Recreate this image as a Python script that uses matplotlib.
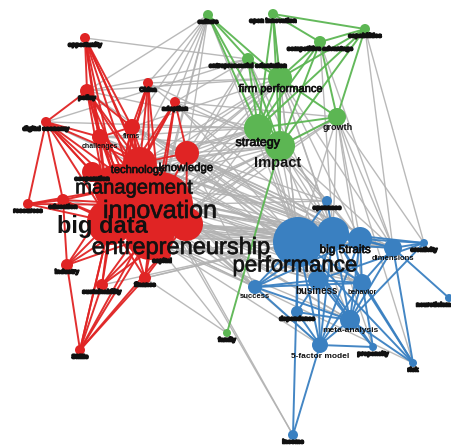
import matplotlib
matplotlib.use("Agg")
import matplotlib.pyplot as plt
import matplotlib.patheffects as pe
from matplotlib.collections import LineCollection

plt.rcParams['font.family'] = ['Liberation Sans', 'DejaVu Sans']

# ---- network data -------------------------------------------------------
node_ids = [
    # cluster 0 (red)
    "innov", "mgmt", "bigd", "entr", "tech", "know", "firms", "chal",
    "rt1", "rt2", "rt3", "rt4", "rl1", "rl2", "rl3", "rlo1", "rlo2", "rlo3",
    "rbot", "rcoop", "rmodel", "rsme",
    # cluster 1 (green)
    "g_cult", "g_open", "g_dyn", "g_corp", "g_eo", "g_fp", "g_grow",
    "g_strat", "g_imp", "g_net",
    # cluster 2 (blue)
    "perf", "big5", "b3", "dim", "btop", "br1", "bfar", "succ", "bus",
    "beh", "bdep", "meta", "b5f", "bprop", "btrait", "bbot",
]
node_labels = [
    "innovation", "management", "big data", "entrepreneurship", "technology",
    "knowledge", "firms", "challenges", "opportunity", "policy", "China",
    "adoption", "digital economy", "resources", "education", "industry",
    "sustainability", "finance", "SMEs", "cooperation", "capital", "",
    "culture", "open innovation", "capabilities", "competitive advantage",
    "entrepreneurial orientation", "firm performance", "growth", "strategy",
    "Impact", "family",
    "performance", "big 5traits", "", "dimensions", "openness", "creativity",
    "neuroticism", "success", "business", "behavior", "dependence",
    "meta-analysis", "5-factor model", "propensity", "risk", "income",
]
node_cluster = [0] * 22 + [1] * 10 + [2] * 16
node_x = [
    160, 118, 110, 150, 140, 187, 132, 100, 85, 87, 148, 175, 46, 28, 63,
    67, 102, 145, 80, 92, 162, 186,
    208, 273, 365, 320, 248, 280, 337, 258, 280, 227,
    298, 333, 360, 393, 327, 424, 449, 255, 318, 362, 297, 350, 320, 373,
    413, 293,
]
node_y = [
    205, 188, 222, 236, 163, 153, 127, 137, 38, 91, 83, 102, 122, 204, 200,
    265, 285, 278, 350, 172, 254, 224,
    15, 14, 29, 42, 59, 78, 117, 128, 146, 333,
    242, 233, 239, 248, 201, 243, 298, 287, 280, 283, 312, 320, 345, 347,
    363, 435,
]
node_weight = [
    33, 24, 23, 24, 16, 12, 8, 8, 5, 7, 5, 5, 5, 5, 6, 6, 6, 6, 5, 10, 9, 17,
    5, 5, 5, 6, 6, 12, 9, 14, 15, 4,
    25, 16, 12, 9, 5, 4, 4, 7, 10, 9, 6, 10, 8, 4, 4, 5,
]

links = """
innov mgmt|innov bigd|innov entr|mgmt bigd|mgmt entr|bigd entr|innov tech|mgmt tech
tech know|innov know|entr tech|bigd tech|innov rsme|entr rsme|know rsme
firms innov|firms mgmt|firms tech|firms bigd|firms entr|firms chal
chal innov|chal mgmt|chal bigd|chal entr|chal tech
rt1 rt2|rt1 innov|rt1 mgmt|rt1 bigd|rt1 entr|rt1 firms|rt1 chal|rt1 tech
rt2 rl1|rt2 innov|rt2 mgmt|rt2 bigd|rt2 chal|rt2 entr|rt2 firms|rt2 tech
rt3 innov|rt3 mgmt|rt3 tech|rt3 firms|rt3 entr|rt3 bigd
rt4 innov|rt4 mgmt|rt4 tech|rt4 know|rt4 bigd|rt4 entr
rl1 innov|rl1 mgmt|rl1 bigd|rl1 entr|rl1 chal|rl1 tech|rl1 rl3|rl1 rcoop|rl1 rl2
rl2 mgmt|rl2 bigd|rl2 innov|rl2 rl3
rl3 mgmt|rl3 bigd|rl3 innov|rl3 entr
rlo1 bigd|rlo1 mgmt|rlo1 innov|rlo1 entr|rlo1 rbot|rlo1 rl3
rlo2 bigd|rlo2 entr|rlo2 innov|rlo2 mgmt|rlo2 rbot|rlo2 rsme
rlo3 entr|rlo3 innov|rlo3 bigd|rlo3 rbot|rlo3 mgmt|rlo3 rsme
rbot bigd|rbot entr|rbot innov|rbot mgmt|rbot rmodel
rcoop mgmt|rcoop bigd|rcoop innov|rmodel entr|rmodel innov|rmodel bigd
g_cult g_strat|g_cult g_imp|g_cult g_eo|g_cult g_fp
g_open g_fp|g_open g_strat|g_open g_imp|g_open g_corp|g_open g_dyn
g_dyn g_corp|g_dyn g_fp|g_dyn g_imp|g_dyn g_strat|g_dyn g_grow
g_corp g_fp|g_corp g_strat|g_corp g_imp|g_corp g_grow
g_eo g_fp|g_eo g_strat|g_eo g_imp|g_fp g_strat|g_fp g_imp|g_fp g_grow
g_grow g_strat|g_grow g_imp|g_strat g_imp|g_imp g_net
perf big5|perf b3|perf dim|perf btop|perf succ|perf bus|perf beh|perf bdep
perf meta|perf b5f|perf bprop|perf btrait|perf bbot
big5 b3|big5 dim|big5 btop|big5 bus|big5 beh|big5 meta|big5 b5f|big5 br1|big5 btrait
b3 dim|b3 br1|b3 beh|b3 meta|b3 b5f|b3 succ
dim br1|dim bfar|dim beh|dim meta|dim btrait|br1 meta|br1 bus
succ bus|succ beh|succ meta|succ big5|succ b5f
bus beh|bus meta|bus b5f|bus bdep|beh meta|beh b5f|beh btrait|beh bprop
meta b5f|meta bprop|meta btrait|b5f bbot|b5f bprop|bdep meta|bdep b5f
innov perf|innov big5|innov b3|innov dim|innov bus|innov succ|innov beh|innov meta
mgmt perf|mgmt big5|mgmt b3|mgmt dim|mgmt btop|bigd perf|bigd big5|bigd b3|bigd bus
entr perf|entr big5|entr b3|entr dim|entr succ|entr bus|entr beh|entr meta|entr b5f
tech perf|tech big5|tech b3|know perf|know big5|know b3|know dim|know btop
firms perf|firms big5|chal perf|rt4 perf|rt3 big5|rsme perf|rsme big5|rsme dim
rl3 perf|rcoop perf|rt2 perf|chal big5|firms b3|tech dim|know bus|know succ
mgmt succ|bigd succ|rsme b3|rsme bus|rsme succ|rsme meta|tech bus|rsme beh
rcoop big5|rl1 perf|know beh|tech succ|firms dim|chal b3
innov g_strat|innov g_imp|innov g_fp|innov g_grow|mgmt g_strat|mgmt g_imp|mgmt g_fp
bigd g_imp|bigd g_strat|entr g_strat|entr g_imp|entr g_fp|entr g_grow|entr g_eo
tech g_imp|tech g_strat|tech g_fp|know g_strat|know g_imp|know g_fp|know g_eo|know g_cult
firms g_fp|firms g_cult|rt1 g_eo|g_cult rt2|g_cult rt4|g_cult innov|g_cult entr
g_cult mgmt|rt2 g_fp|rt4 g_eo|rt3 g_cult|rl1 g_eo|rt2 g_eo|rt3 g_fp|chal g_strat
rsme g_imp|rsme g_strat|rcoop g_imp|rt4 g_grow|rt4 g_imp|rt3 g_imp
firms g_strat|chal g_imp|rcoop g_strat|bigd g_fp|rt2 g_strat|rl1 g_strat|rsme g_grow
g_imp perf|g_imp big5|g_imp b3|g_imp dim|g_imp btop|g_strat perf|g_strat big5|g_strat b3
g_fp perf|g_fp big5|g_fp dim|g_fp b3|g_grow perf|g_grow big5|g_grow dim|g_grow b3
g_grow br1|g_grow btrait|g_grow beh|g_corp big5|g_corp dim|g_dyn dim|g_open perf
g_eo perf|g_eo big5|g_cult perf|g_fp bprop|g_imp meta|g_strat bus|g_dyn br1
entr g_net|rlo3 g_net|innov bbot|tech bbot|entr btrait|rmodel perf|rmodel big5
rlo2 perf|rlo3 perf|rlo3 big5|bigd dim|mgmt bus|innov b5f|innov btop
"""

# ---- styling ------------------------------------------------------------
cluster_color = {0: "#e02424", 1: "#5cb653", 2: "#3a80c1"}
gray = "#b2b2b2"

label_style = {
    # label: (fontsize, bold, dx, dy)
    "innovation": (18, False, 0, 6),
    "management": (14.5, False, 16, 0),
    "big data": (17, True, -8, 5),
    "entrepreneurship": (17, False, 31, 12),
    "technology": (8, False, -2, 7),
    "knowledge": (8.2, False, -1, 15),
    "performance": (16, False, -3, 24),
    "strategy": (9, False, 0, 15),
    "Impact": (10.5, True, -2, 17),
    "firm performance": (8, False, 1, 11),
    "growth": (6.5, True, 1, 10),
    "big 5traits": (8.5, False, 12, 17),
    "business": (7, True, -1, 11),
    "meta-analysis": (6, True, 1, 11),
    "5-factor model": (6, True, 0, 11),
    "behavior": (5, True, 0, 10),
    "success": (5.5, True, 0, 10),
    "dimensions": (5.5, True, 0, 11),
    "challenges": (5, True, 0, 10),
    "firms": (5, True, 0, 10),
}
small_style = (4.4, True, 0, 7)

# ---- figure ---------------------------------------------------------------
fig = plt.figure(figsize=(4.52, 4.45), dpi=100)
ax = fig.add_axes([0, 0, 1, 1])
ax.set_xlim(0, 452)
ax.set_ylim(445, 0)
ax.axis("off")

index = {n: i for i, n in enumerate(node_ids)}
pairs = [p.split() for row in links.strip().splitlines() for p in row.split("|")]

gray_segs, col_segs, col_cols = [], [], []
for a, b in pairs:
    i, j = index[a], index[b]
    seg = [(node_x[i], node_y[i]), (node_x[j], node_y[j])]
    if node_cluster[i] == node_cluster[j]:
        col_segs.append(seg)
        col_cols.append(cluster_color[node_cluster[i]])
    else:
        gray_segs.append(seg)

ax.add_collection(LineCollection(gray_segs, colors=gray, linewidths=1.0,
                                 alpha=0.9, zorder=1))
ax.add_collection(LineCollection(col_segs, colors=col_cols, linewidths=1.4,
                                 alpha=0.95, zorder=2))

sizes = [(2 * w * 0.72) ** 2 for w in node_weight]
colors = [cluster_color[c] for c in node_cluster]
ax.scatter(node_x, node_y, s=sizes, c=colors, linewidths=0, zorder=3)

for i, lab in enumerate(node_labels):
    if not lab:
        continue
    fs, bold, dx, dy = label_style.get(lab, small_style)
    ha = "center"
    if node_ids[i] == "bfar":
        ha, dx = "right", 451 - node_x[i]
    t = ax.text(node_x[i] + dx, node_y[i] + dy, lab, fontsize=fs,
                fontweight="bold" if bold else "normal", color="#111111",
                alpha=0.88 if (fs > 10 and not bold) else 1.0,
                ha=ha, va="center", zorder=4)
    if fs < 5:
        t.set_path_effects([pe.withStroke(linewidth=1.2, foreground="#111111")])
    elif not bold:
        t.set_path_effects([pe.withStroke(linewidth=0.5, foreground="#111111")])

fig.savefig("out.png", dpi=100)
